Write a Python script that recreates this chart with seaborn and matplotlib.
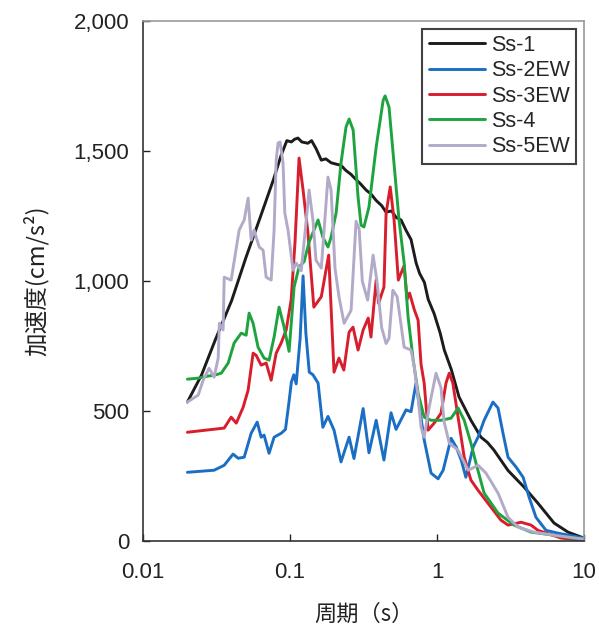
import numpy as np
import pandas as pd
import matplotlib
matplotlib.use("Agg")
import matplotlib.pyplot as plt
import seaborn as sns
from matplotlib.ticker import FuncFormatter, FixedLocator, NullLocator

# ---- data (period [s], acceleration [cm/s^2]) ----
ss1_t = [0.02, 0.025, 0.031, 0.04, 0.05, 0.0635, 0.077, 0.087, 0.095, 0.102, 0.107, 0.113, 0.12,
         0.132, 0.14, 0.15, 0.163, 0.175, 0.19, 0.205, 0.222, 0.24, 0.26, 0.281, 0.30, 0.329, 0.355,
         0.385, 0.42, 0.45, 0.49, 0.526, 0.569, 0.615, 0.665, 0.72, 0.76, 0.82, 0.87, 0.955, 1.05,
         1.12, 1.25, 1.41, 1.7, 1.99, 2.2, 2.44, 3.04, 3.91, 4.86, 6.25, 7.78, 10.0]
ss1_v = [535, 640, 775, 925, 1090, 1255, 1390, 1485, 1540, 1535, 1545, 1550, 1535,
         1530, 1540, 1510, 1465, 1470, 1455, 1450, 1445, 1425, 1410, 1390, 1375, 1350, 1335,
         1310, 1290, 1265, 1270, 1245, 1235, 1195, 1160, 1070, 1030, 995, 930, 875, 800,
         735, 660, 555, 465, 400, 380, 350, 272, 208, 146, 70, 35, 12]

ss2_t = [0.02, 0.0304, 0.0356, 0.0409, 0.0443, 0.0487, 0.0543, 0.0597, 0.0635, 0.0665, 0.0719,
         0.0778, 0.0869, 0.093, 0.098, 0.102, 0.106, 0.110, 0.117, 0.1225, 0.128, 0.135, 0.143,
         0.155, 0.167, 0.181, 0.199, 0.222, 0.252, 0.272, 0.314, 0.344, 0.385, 0.435, 0.486,
         0.526, 0.615, 0.665, 0.719, 0.817, 0.91, 1.016, 1.10, 1.245, 1.35, 1.46, 1.57, 1.76,
         1.90, 2.09, 2.40, 2.60, 2.81, 3.04, 3.45, 3.85, 4.23, 4.71, 5.51, 6.65, 10.0]
ss2_v = [265, 273, 292, 335, 319, 323, 415, 458, 400, 408, 338,
         400, 415, 430, 530, 612, 640, 605, 780, 1020, 800, 650, 640,
         608, 438, 480, 427, 305, 400, 318, 510, 340, 465, 312, 494,
         430, 505, 498, 608, 390, 262, 240, 273, 396, 362, 312, 246, 362,
         400, 465, 535, 512, 415, 323, 285, 246, 169, 92, 42, 31, 12]

ss3_t = [0.02, 0.0356, 0.0397, 0.043, 0.0479, 0.0518, 0.056, 0.0587, 0.0635, 0.0687, 0.0743,
         0.0804, 0.0869, 0.094, 0.1016, 0.108, 0.115, 0.1225, 0.132, 0.145, 0.163, 0.172, 0.183,
         0.199, 0.215, 0.232, 0.252, 0.268, 0.29, 0.314, 0.34, 0.355, 0.385, 0.40, 0.435, 0.45,
         0.48, 0.51, 0.545, 0.597, 0.625, 0.65, 0.70, 0.743, 0.778, 0.817, 0.869, 0.955, 1.064,
         1.15, 1.21, 1.28, 1.39, 1.53, 1.70, 1.90, 2.22, 2.72, 3.04, 3.73, 4.36, 4.86, 7.0, 10.0]
ss3_v = [419, 435, 477, 454, 515, 581, 723, 715, 677, 685, 619,
         723, 762, 812, 927, 1150, 1473, 1350, 1190, 900, 940, 1015, 1100,
         650, 704, 658, 804, 823, 735, 812, 858, 785, 1004, 915, 977, 1262,
         1362, 1235, 1004, 1060, 930, 954, 890, 850, 680, 608, 427, 454, 492,
         608, 646, 608, 477, 323, 235, 196, 146, 81, 62, 73, 62, 42, 12, 4]

ss4_t = [0.02, 0.0237, 0.0277, 0.0304, 0.034, 0.0379, 0.0416, 0.0465, 0.0502, 0.0526, 0.056,
         0.0605, 0.0665, 0.0719, 0.0778, 0.0841, 0.091, 0.0984, 0.1064, 0.115, 0.1245, 0.1346,
         0.155, 0.167, 0.181, 0.190, 0.2056, 0.222, 0.240, 0.252, 0.2685, 0.290, 0.304, 0.318,
         0.344, 0.385, 0.430, 0.443, 0.471, 0.509, 0.551, 0.597, 0.635, 0.687, 0.743, 0.817,
         0.91, 1.064, 1.245, 1.39, 1.53, 1.70, 1.84, 2.09, 2.60, 3.34, 4.36, 6.25, 10.0]
ss4_v = [623, 627, 635, 638, 646, 685, 762, 800, 792, 877, 838,
         746, 704, 696, 785, 900, 823, 730, 977, 1054, 1075, 1150,
         1235, 1169, 1131, 1169, 1262, 1454, 1592, 1623, 1581, 1323, 1215, 1208,
         1285, 1515, 1696, 1712, 1669, 1454, 1235, 1070, 862, 700, 569, 477,
         465, 465, 473, 512, 465, 377, 300, 185, 108, 62, 35, 23, 5]

ss5_t = [0.02, 0.0237, 0.0256, 0.0281, 0.0304, 0.0324, 0.033, 0.035, 0.0356, 0.0397, 0.045,
         0.0487, 0.0518, 0.0543, 0.0569, 0.0616, 0.0655, 0.0687, 0.0743, 0.0778, 0.0804, 0.0828,
         0.0855, 0.0895, 0.092, 0.0968, 0.1047, 0.110, 0.119, 0.127, 0.1346, 0.143, 0.150, 0.163,
         0.181, 0.190, 0.202, 0.215, 0.233, 0.260, 0.281, 0.295, 0.31, 0.337, 0.367, 0.39, 0.42,
         0.45, 0.471, 0.50, 0.535, 0.597, 0.665, 0.70, 0.743, 0.778, 0.817, 0.883, 0.984, 1.064,
         1.116, 1.21, 1.39, 1.63, 1.90, 2.15, 2.60, 3.04, 3.56, 4.57, 6.25, 10.0]
ss5_v = [535, 562, 619, 665, 631, 704, 838, 812, 1015, 1004, 1196,
         1235, 1319, 1158, 1196, 1131, 1119, 1015, 1004, 1196, 1465, 1531,
         1535, 1454, 1262, 1196, 1042, 1069, 1040, 1200, 1350, 1235, 1080, 1050,
         1400, 1350, 1050, 940, 838, 888, 1230, 1200, 1000, 927, 1100, 1000, 820,
         760, 780, 965, 940, 746, 735, 669, 554, 438, 400, 515, 646, 590,
         460, 377, 350, 273, 292, 262, 185, 92, 54, 35, 23, 8]

labels = ["Ss-1", "Ss-2EW", "Ss-3EW", "Ss-4", "Ss-5EW"]
colors = ["#1c1c1c", "#1a6fc4", "#d81e2c", "#1fa33f", "#b3aac9"]
y_ticks = [0, 500, 1000, 1500, 2000]
x_ticks = [0.01, 0.1, 1, 10]
x_tick_labels = ["0.01", "0.1", "1", "10"]

frames = []
for lab, t, v in zip(labels, [ss1_t, ss2_t, ss3_t, ss4_t, ss5_t],
                     [ss1_v, ss2_v, ss3_v, ss4_v, ss5_v]):
    frames.append(pd.DataFrame({"period": t, "acc": v, "series": lab}))
df = pd.concat(frames, ignore_index=True)

sns.set_theme(style="white")
plt.rcParams["font.family"] = ["Liberation Sans", "Noto Sans CJK JP", "DejaVu Sans"]

fig = plt.figure(figsize=(5.99, 6.36), dpi=100)
ax = fig.add_axes([0.239, 0.149, 0.736, 0.818])

sns.lineplot(data=df, x="period", y="acc", hue="series", hue_order=labels,
             palette=dict(zip(labels, colors)), estimator=None, sort=True,
             linewidth=2.1, ax=ax)

ax.set_xscale("log")
ax.set_xlim(0.01, 10)
ax.set_ylim(0, 2000)
ax.xaxis.set_major_locator(FixedLocator(x_ticks))
ax.set_xticklabels(x_tick_labels)
ax.xaxis.set_minor_locator(NullLocator())
ax.set_yticks(y_ticks)
ax.yaxis.set_major_formatter(FuncFormatter(lambda v, p: f"{int(v):,}"))
ax.tick_params(axis="both", direction="in", length=5, width=1, labelsize=16,
               colors="#222222")
ax.tick_params(axis="y", pad=10)
ax.tick_params(axis="x", pad=15)
ax.tick_params(top=False, right=False, bottom=True, left=True)

for side in ["left", "bottom"]:
    ax.spines[side].set_color("#333333")
    ax.spines[side].set_linewidth(1.2)
for side in ["top", "right"]:
    ax.spines[side].set_color("#999999")
    ax.spines[side].set_linewidth(1.2)

ax.set_xlabel("周期（s）", fontsize=16, family=["Noto Sans CJK JP"], labelpad=14, color="#222222")
ax.set_ylabel("加速度(cm/s²)", fontsize=17, family=["Noto Sans CJK JP", "DejaVu Sans"],
              labelpad=18, color="#222222")

leg = ax.legend(loc="upper right", fontsize=15.5, frameon=True, fancybox=False,
                handlelength=2.6, handletextpad=0.3, borderpad=0.3, labelspacing=0.2,
                borderaxespad=0.35)
leg.get_frame().set_edgecolor("#111111")
leg.get_frame().set_linewidth(1.5)
leg.set_title(None)

fig.savefig("out.png", dpi=100)
